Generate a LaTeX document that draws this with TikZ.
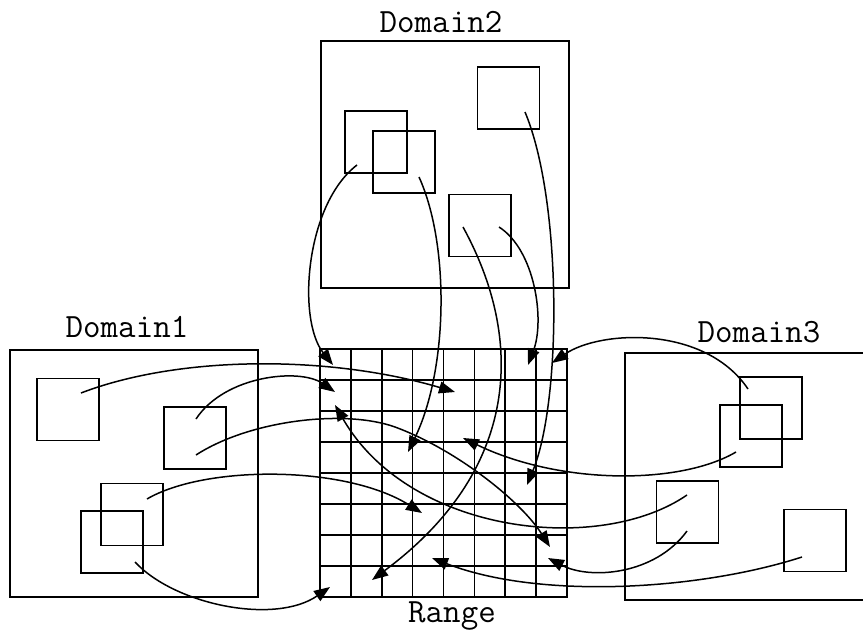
\documentclass[tikz,border=0pt]{standalone}
\usepackage{fontspec}
\usetikzlibrary{arrows.meta}
\begin{document}
\begin{tikzpicture}[x=1pt,y=-1pt,
  dombox/.style={draw,line width=1.6pt,inner sep=0pt,minimum width=248pt,minimum height=247pt},
  blockbox/.style={draw,line width=1.6pt,inner sep=0pt,minimum size=62pt},
  gridline/.style={line width=1.7pt},
  title/.style={anchor=base,inner sep=0pt,font=\ttfamily\fontsize{34}{34}\selectfont},
  maparrow/.style={line width=1.5pt,-{Triangle[length=16pt,width=12pt]}}]
\useasboundingbox (0,0) rectangle (863,632);
\clip (0,0) rectangle (863,632);

% domain frames
\node[dombox] (dom2) at (445,164.5) {};
\node[dombox] (dom1) at (134,473.5) {};
\node[dombox] (dom3) at (749,476.5) {};

% titles
\node[title] (t2) at (441,32) {Domain2};
\node[title] (t1) at (127,337) {Domain1};
\node[title] (t3) at (759,342) {Domain3};
\node[title] (tr) at (452,622) {Range};

% range: 8x8 grid of blocks
\node[draw,line width=1.7pt,inner sep=0pt,minimum width=247pt,minimum height=248pt] (range) at (443.5,473) {};
\foreach \i in {1,...,7} {
  \draw[gridline] (320+\i*30.875,349) -- (320+\i*30.875,597);
  \draw[gridline] (320,349+\i*31) -- (567,349+\i*31);
}

% domain blocks
\node[blockbox] (A) at (376,142) {};
\node[blockbox] (B) at (404,162) {};
\node[blockbox] (C) at (508.5,98) {};
\node[blockbox] (D) at (480,225.5) {};
\node[blockbox] (E) at (68,409.5) {};
\node[blockbox] (F) at (195,438) {};
\node[blockbox] (G) at (132,514.5) {};
\node[blockbox] (H) at (112,542) {};
\node[blockbox] (I) at (771,408) {};
\node[blockbox] (J) at (751,436) {};
\node[blockbox] (K) at (687.5,512) {};
\node[blockbox] (L) at (815,540.5) {};

% start points inside the blocks
\coordinate (sA) at (357,165);
\coordinate (sB) at (419,177);
\coordinate (sDl) at (463,227);
\coordinate (sDr) at (499,227);
\coordinate (sC) at (525,112);
\coordinate (sE) at (81,393);
\coordinate (sFu) at (196,419);
\coordinate (sFl) at (196,455);
\coordinate (sG) at (147,499);
\coordinate (sH) at (135,562);
\coordinate (sI) at (748,389);
\coordinate (sJ) at (736,452);
\coordinate (sKu) at (687,495);
\coordinate (sKl) at (687,531);
\coordinate (sL) at (802,557);

% target cells in the range
\coordinate (rA) at (333,365);
\coordinate (rB) at (408,452);
\coordinate (rDl) at (372,580);
\coordinate (rDr) at (528,365);
\coordinate (rC) at (527,485);
\coordinate (rE) at (455,392);
\coordinate (rFu) at (335,392);
\coordinate (rFl) at (550,547);
\coordinate (rG) at (422,513);
\coordinate (rH) at (330,587);
\coordinate (rI) at (552,363);
\coordinate (rJ) at (463,438);
\coordinate (rKu) at (335,405);
\coordinate (rKl) at (548,558);
\coordinate (rL) at (432,558);
\coordinate (mFl) at (395,427);

% mappings from domain blocks to range blocks
\draw[maparrow] (sA) .. controls (305,205) and (297,320) .. (rA);
\draw[maparrow] (sB) .. controls (450,245) and (448,370) .. (rB);
\draw[maparrow] (sDl) .. controls (525,340) and (520,470) .. (rDl);
\draw[maparrow] (sDr) .. controls (535,250) and (545,320) .. (rDr);
\draw[maparrow] (sC) .. controls (562,200) and (562,400) .. (rC);
\draw[maparrow] (sE) .. controls (180,355) and (330,355) .. (rE);
\draw[maparrow] (sFu) .. controls (225,375) and (300,368) .. (rFu);
\draw[maparrow] (sFl) .. controls (250,420) and (345,409) .. (mFl)
                      .. controls (455,449) and (520,500) .. (rFl);
\draw[maparrow] (sG) .. controls (205,465) and (345,465) .. (rG);
\draw[maparrow] (sH) .. controls (175,605) and (275,625) .. (rH);
\draw[maparrow] (sI) .. controls (705,325) and (600,330) .. (rI);
\draw[maparrow] (sJ) .. controls (680,485) and (560,485) .. (rJ);
\draw[maparrow] (sKu) .. controls (600,555) and (410,535) .. (rKu);
\draw[maparrow] (sKl) .. controls (655,575) and (590,580) .. (rKl);
\draw[maparrow] (sL) .. controls (700,590) and (540,600) .. (rL);
\end{tikzpicture}
\end{document}
